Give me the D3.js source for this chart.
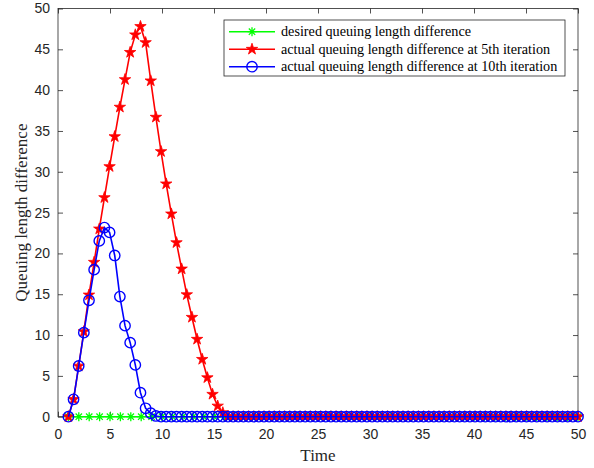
<!DOCTYPE html>
<html><head><meta charset="utf-8">
<script src="https://cdn.jsdelivr.net/npm/d3@7"></script>
<style>body{margin:0;background:#fff}svg{display:block}</style>
</head><body>
<svg id="c" width="594" height="468"></svg>
<script>
// ---- data ----
const xTicks = [0,5,10,15,20,25,30,35,40,45,50];
const yTicks = [0,5,10,15,20,25,30,35,40,45,50];
const seriesNames = [
  "desired queuing length difference",
  "actual queuing length difference at 5th iteration",
  "actual queuing length difference at 10th iteration"
];
// time grid for the iteration curves: 100 samples from 1 to 50
const timeFine = d3.range(100).map(i => 1 + i * 49 / 99);
// time grid for the desired curve: integers 1..50
const timeInt = d3.range(1, 51);
const desired = [0,0,0,0,0,0,0,0,0,0, 0,0,0,0,0,0,0,0,0,0, 0,0,0,0,0,0,0,0,0,0, 0,0,0,0,0,0,0,0,0,0, 0,0,0,0,0,0,0,0,0,0];
const iter5 = [0,2.13,6.21,10.42,14.91,18.92,23.0,26.84,30.64,34.31,
  37.92,41.3,44.63,46.78,47.8,45.83,41.14,36.69,32.48,28.52,
  24.84,21.32,18.1,14.95,12.18,9.49,7.03,4.78,2.75,1.31,
  0.49,0,0,0,0,0,0,0,0,0, 0,0,0,0,0,0,0,0,0,0, 0,0,0,0,0,0,0,0,0,0,
  0,0,0,0,0,0,0,0,0,0, 0,0,0,0,0,0,0,0,0,0, 0,0,0,0,0,0,0,0,0,0, 0,0,0,0,0,0,0,0,0,0];
const iter10 = [0,2.13,6.21,10.29,14.26,18.01,21.53,23.16,22.57,19.75,
  14.71,11.15,9.07,6.34,2.94,1.03,0.42,0.09,0,0,
  0,0,0,0,0,0,0,0,0,0, 0,0,0,0,0,0,0,0,0,0, 0,0,0,0,0,0,0,0,0,0,
  0,0,0,0,0,0,0,0,0,0, 0,0,0,0,0,0,0,0,0,0, 0,0,0,0,0,0,0,0,0,0, 0,0,0,0,0,0,0,0,0,0, 0,0,0,0,0,0,0,0,0,0];
const colors = ["#00ff00","#ff0000","#0000ff"];

// ---- layout ----
const L = 58, R = 578, T = 8.5, B = 416.7;
const svg = d3.select("#c");
const x = d3.scaleLinear().domain([0,50]).range([L,R]);
const y = d3.scaleLinear().domain([0,50]).range([B,T]);
const axisColor = "#262626";
const tickFont = "'Liberation Sans', Arial, sans-serif";
const serif = "'Liberation Serif', 'Times New Roman', serif";

svg.append("rect").attr("x",L).attr("y",T).attr("width",R-L).attr("height",B-T).attr("fill","#fff");

function styleAxis(g){
  g.selectAll("path").remove();
  g.selectAll("line").attr("stroke",axisColor).attr("stroke-width",0.8);
  g.selectAll("text").attr("fill",axisColor).style("font-family",tickFont).style("font-size","14px");
}
const ax = svg.append("g").attr("transform",`translate(0,${B})`)
  .call(d3.axisBottom(x).tickValues(xTicks).tickSize(-5).tickPadding(12).tickFormat(d3.format("d")));
styleAxis(ax);
const axT = svg.append("g").attr("transform",`translate(0,${T})`)
  .call(d3.axisTop(x).tickValues(xTicks).tickSize(-5).tickFormat(""));
styleAxis(axT);
const ay = svg.append("g").attr("transform",`translate(${L},0)`)
  .call(d3.axisLeft(y).tickValues(yTicks).tickSize(-5).tickPadding(8).tickFormat(d3.format("d")));
styleAxis(ay);
const ayR = svg.append("g").attr("transform",`translate(${R},0)`)
  .call(d3.axisRight(y).tickValues(yTicks).tickSize(-5).tickFormat(""));
styleAxis(ayR);
svg.append("rect").attr("x",L).attr("y",T).attr("width",R-L).attr("height",B-T)
  .attr("fill","none").attr("stroke",axisColor).attr("stroke-width",0.8);

// ---- markers ----
function starPath(Ro){
  const Ri = Ro*0.382; let p=[];
  for(let k=0;k<10;k++){const r=k%2?Ri:Ro; const a=-Math.PI/2+k*Math.PI/5; p.push([r*Math.cos(a),r*Math.sin(a)]);}
  return "M"+p.map(q=>q[0].toFixed(2)+","+q[1].toFixed(2)).join("L")+"Z";
}
function asteriskPath(s){
  const d=s*0.707;
  return `M${-s},0L${s},0M0,${-s}L0,${s}M${-d},${-d}L${d},${d}M${-d},${d}L${d},${-d}`;
}
function drawMarker(g, kind, color){
  if(kind===0) g.append("path").attr("d",asteriskPath(4.5)).attr("stroke",color).attr("stroke-width",1.3).attr("fill","none");
  else if(kind===1) g.append("path").attr("d",starPath(6)).attr("fill",color).attr("stroke",color).attr("stroke-width",0.8);
  else g.append("circle").attr("r",5.2).attr("fill","none").attr("stroke",color).attr("stroke-width",1.4);
}

const series = [
  {t: timeInt, v: desired},
  {t: timeFine, v: iter5},
  {t: timeFine, v: iter10}
];
const line = d3.line().x(d=>x(d[0])).y(d=>y(d[1]));
series.forEach((s,k)=>{
  const pts = s.t.map((t,i)=>[t,s.v[i]]);
  const g = svg.append("g");
  g.append("path").attr("d",line(pts)).attr("fill","none").attr("stroke",colors[k]).attr("stroke-width",1.6);
  pts.forEach(p=>{
    const m = g.append("g").attr("transform",`translate(${x(p[0])},${y(p[1])})`);
    drawMarker(m,k,colors[k]);
  });
});

// ---- legend ----
const lg = svg.append("g");
lg.append("rect").attr("x",224).attr("y",20).attr("width",341).attr("height",56)
  .attr("fill","#fff").attr("stroke",axisColor).attr("stroke-width",0.8);
seriesNames.forEach((n,k)=>{
  const yy = 31.7 + k*17.5;
  lg.append("line").attr("x1",229).attr("x2",275).attr("y1",yy).attr("y2",yy).attr("stroke",colors[k]).attr("stroke-width",1.6);
  const m = lg.append("g").attr("transform",`translate(252,${yy})`);
  drawMarker(m,k,colors[k]);
  lg.append("text").attr("x",281).attr("y",yy+4.5).text(n)
    .style("font-family",serif).style("font-size","14.2px").attr("fill","#000");
});

// ---- axis labels ----
svg.append("text").attr("x",(L+R)/2).attr("y",461).attr("text-anchor","middle")
  .style("font-family",serif).style("font-size","17px").attr("fill",axisColor).text("Time");
svg.append("text").attr("transform",`translate(27,${(T+B)/2}) rotate(-90)`).attr("text-anchor","middle")
  .style("font-family",serif).style("font-size","17px").attr("fill",axisColor).text("Queuing length difference");
</script>
</body></html>
